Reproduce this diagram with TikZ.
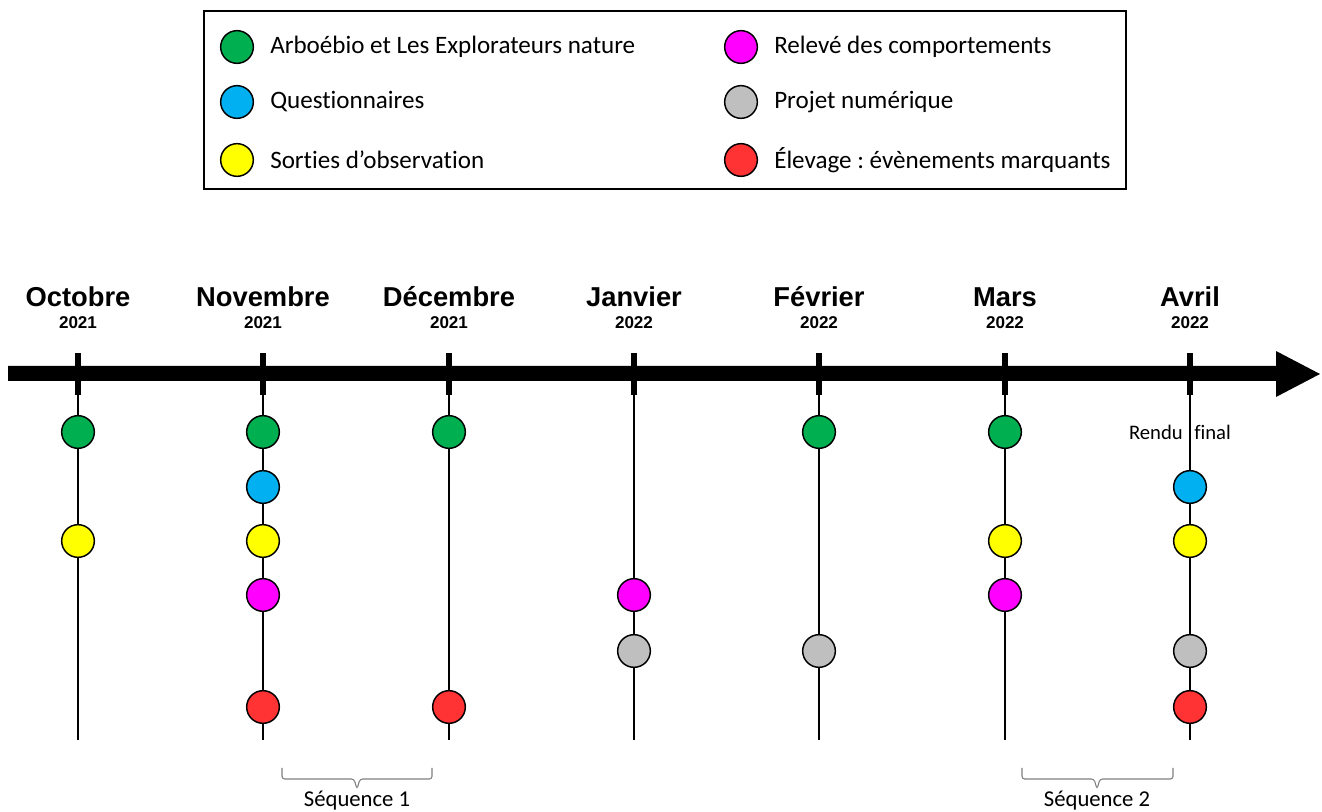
\documentclass[tikz,border=0pt]{standalone}
\usepackage{fontspec}
\setmainfont{Carlito}[Ligatures=NoCommon]
\newfontfamily\monthfont{Liberation Sans}
\definecolor{cgreen}{HTML}{00B050}
\definecolor{cblue}{HTML}{00B0F0}
\definecolor{cyellow}{HTML}{FFFF00}
\definecolor{cmagenta}{HTML}{FF00FF}
\definecolor{cgray}{HTML}{BFBFBF}
\definecolor{cred}{HTML}{FF3333}
\definecolor{bracegray}{HTML}{7F7F7F}
\frenchspacing
\begin{document}
\begin{tikzpicture}[x=0.75pt,y=-0.75pt,
  dot/.style={circle, draw=black, line width=1.1pt, minimum size=24.5pt, inner sep=0pt},
  legtext/.style={anchor=west, inner sep=0pt, font=\fontsize{18.8}{22}\selectfont},
  month/.style={font=\monthfont\bfseries\fontsize{20.5}{24}\selectfont, inner sep=0pt},
  yearlbl/.style={font=\monthfont\bfseries\fontsize{12.8}{15}\selectfont, inner sep=0pt},
  tickmark/.style={rectangle, fill=black, minimum width=4.5pt, minimum height=32pt, inner sep=0pt},
  vline/.style={line width=1.1pt},
  bracepath/.style={draw=bracegray, line width=0.8pt, rounded corners=2pt},
  seqtext/.style={font=\fontsize{17}{20}\selectfont, inner sep=0pt},
  notetext/.style={font=\fontsize{15.5}{18}\selectfont, inner sep=0pt}
]
\useasboundingbox (0,0) rectangle (1322,812);

% legend
\node[draw=black, line width=1.5pt, minimum width=691.5pt, minimum height=133.5pt, inner sep=0pt] (legend) at (665,100) {};
\node[dot, fill=cgreen] (lg1) at (237,47) {};
\node[legtext] (lt1) at (270,47) {Arboébio et Les Explorateurs nature};
\node[dot, fill=cblue] (lg2) at (237,102) {};
\node[legtext] (lt2) at (270,102) {Questionnaires};
\node[dot, fill=cyellow] (lg3) at (237,160) {};
\node[legtext] (lt3) at (270,160) {Sorties d’observation};
\node[dot, fill=cmagenta] (lg4) at (741,47) {};
\node[legtext] (lt4) at (774,47) {Relevé des comportements};
\node[dot, fill=cgray] (lg5) at (741,102) {};
\node[legtext] (lt5) at (774,102) {Projet numérique};
\node[dot, fill=cred] (lg6) at (741,160) {};
\node[legtext] (lt6) at (774,160) {Élevage : évènements marquants};

% vertical lines
\foreach \x/\n in {78/oct,263/nov,449/dec,634/jan,819/feb,1005/mar,1190/apr}{
  \coordinate (b\n) at (\x,740);
  \coordinate (v\n) at (\x,390);
  \draw[vline] (v\n) -- (b\n);
}

% main arrow
\fill[black] (8,366) -- (1276,366) -- (1276,351) -- (1320,374) -- (1276,397) -- (1276,381) -- (8,381) -- cycle;

% ticks and labels
\foreach \x/\m/\yr/\n in {78/Octobre/2021/oct,263/Novembre/2021/nov,449/Décembre/2021/dec,634/Janvier/2022/jan,819/Février/2022/feb,1005/Mars/2022/mar,1190/Avril/2022/apr}{
  \node[tickmark] (t\n) at (\x,374) {};
  \node[month] (m\n) at (\x,297) {\m};
  \node[yearlbl] (y\n) at (\x,323) {\yr};
}

% dots
\node[dot, fill=cgreen] (oct-g) at (78,432) {};
\node[dot, fill=cyellow] (oct-y) at (78,541) {};

\node[dot, fill=cgreen] (nov-g) at (263,432) {};
\node[dot, fill=cblue] (nov-b) at (263,487) {};
\node[dot, fill=cyellow] (nov-y) at (263,541) {};
\node[dot, fill=cmagenta] (nov-m) at (263,595) {};
\node[dot, fill=cred] (nov-r) at (263,707) {};

\node[dot, fill=cgreen] (dec-g) at (449,432) {};
\node[dot, fill=cred] (dec-r) at (449,707) {};

\node[dot, fill=cmagenta] (jan-m) at (634,595) {};
\node[dot, fill=cgray] (jan-p) at (634,651) {};

\node[dot, fill=cgreen] (feb-g) at (819,432) {};
\node[dot, fill=cgray] (feb-p) at (819,651) {};

\node[dot, fill=cgreen] (mar-g) at (1005,432) {};
\node[dot, fill=cyellow] (mar-y) at (1005,541) {};
\node[dot, fill=cmagenta] (mar-m) at (1005,595) {};

\node[dot, fill=cblue] (apr-b) at (1190,487) {};
\node[dot, fill=cyellow] (apr-y) at (1190,541) {};
\node[dot, fill=cgray] (apr-p) at (1190,651) {};
\node[dot, fill=cred] (apr-r) at (1190,707) {};

\node[notetext, anchor=east] (rendu) at (1183,432) {Rendu};
\node[notetext, anchor=west] (final) at (1194,432) {final};

% braces
\draw[bracepath] (282,768) -- (282,779) -- (354,779) -- (357,789) -- (360,779) -- (432,779) -- (432,768);
\node[seqtext] (seq1) at (357,801) {Séquence 1};
\draw[bracepath] (1022,768) -- (1022,779) -- (1094,779) -- (1097,789) -- (1100,779) -- (1173,779) -- (1173,768);
\node[seqtext] (seq2) at (1097,801) {Séquence 2};
\end{tikzpicture}
\end{document}
